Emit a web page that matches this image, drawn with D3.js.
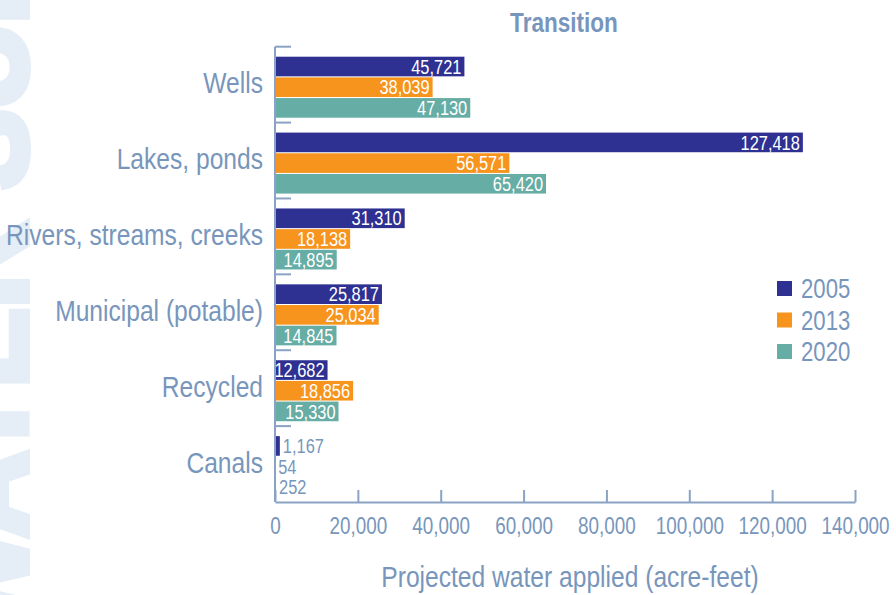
<!DOCTYPE html>
<html>
<head>
    <script src="https://d3js.org/d3.v7.min.js"></script>
    <style>
        body { margin: 0; background: #fff; }
        text { font-family: "Liberation Sans", Arial, sans-serif; }
    </style>
</head>
<body>
    <div id="chart"></div>
    <script>
        // data
        const categories = ["Wells", "Lakes, ponds", "Rivers, streams, creeks", "Municipal (potable)", "Recycled", "Canals"];
        const years = ["2005", "2013", "2020"];
        const values2005 = [45721, 127418, 31310, 25817, 12682, 1167];
        const values2013 = [38039, 56571, 18138, 25034, 18856, 54];
        const values2020 = [47130, 65420, 14895, 14845, 15330, 252];
        const xTicks = [0, 20000, 40000, 60000, 80000, 100000, 120000, 140000];
        const colors = ["#2e3192", "#f7941d", "#66ada5"];

        const seriesValues = [values2005, values2013, values2020];
        const rows = [];
        categories.forEach((c, i) => {
            years.forEach((yr, j) => rows.push({ cat: c, year: yr, value: seriesValues[j][i] }));
        });

        const W = 896, H = 595;
        const plotLeft = 275, plotRight = 855, plotTop = 46.7, plotBottom = 502;
        const textColor = "#7896bb", lineColor = "#8aa3c4";

        // no narrow font installed, so squeeze the normal one horizontally
        function condense(sel, k = 0.82) {
            sel.each(function () {
                const w = this.getComputedTextLength();
                d3.select(this).attr("textLength", w * k).attr("lengthAdjust", "spacingAndGlyphs");
            });
        }

        const svg = d3.select("#chart").append("svg")
            .attr("width", W).attr("height", H);

        // pale watermark running up the left edge, mostly cut off
        svg.append("text")
            .attr("transform", "translate(26,643) rotate(-90)")
            .style("font-weight", "bold")
            .style("font-size", "119px")
            .attr("fill", "#e5edf6")
            .attr("stroke", "#e5edf6")
            .attr("stroke-width", 8)
            .attr("stroke-linejoin", "miter")
            .text("WATER SUPPLY");

        const x = d3.scaleLinear().domain([0, 140000]).range([plotLeft, plotRight]);
        const y0 = d3.scaleBand().domain(categories).range([plotTop, plotBottom]);
        const y1 = d3.scaleBand().domain(years).range([10, 71]).paddingInner(0.05);
        const color = d3.scaleOrdinal().domain(years).range(colors);

        // title
        svg.append("text")
            .attr("x", 564).attr("y", 32)
            .attr("text-anchor", "middle")
            .style("font-size", "27.5px").style("font-weight", "bold")
            .attr("fill", textColor)
            .text("Transition")
            .call(condense);

        // bars
        svg.append("g").selectAll("rect")
            .data(rows)
            .join("rect")
            .attr("x", x(0))
            .attr("y", d => y0(d.cat) + y1(d.year))
            .attr("width", d => x(d.value) - x(0))
            .attr("height", y1.bandwidth())
            .attr("fill", d => color(d.year));

        // value labels
        svg.append("g").selectAll("text")
            .data(rows)
            .join("text")
            .attr("x", d => d.value >= 5000 ? x(d.value) - 3 : x(d.value) + 3)
            .attr("y", d => y0(d.cat) + y1(d.year) + y1.bandwidth() / 2)
            .attr("dy", "0.36em")
            .attr("text-anchor", d => d.value >= 5000 ? "end" : "start")
            .style("font-size", "20px")
            .attr("fill", d => d.value >= 5000 ? "#fff" : textColor)
            .text(d => d3.format(",")(d.value))
            .call(condense);

        // y axis: line, separator ticks, category labels
        const yAxis = svg.append("g");
        yAxis.append("line")
            .attr("x1", plotLeft).attr("x2", plotLeft)
            .attr("y1", plotTop).attr("y2", plotBottom)
            .attr("stroke", lineColor).attr("stroke-width", 2);
        yAxis.selectAll(".sep")
            .data(categories)
            .join("line")
            .attr("class", "sep")
            .attr("x1", plotLeft).attr("x2", plotLeft + 16)
            .attr("y1", d => y0(d)).attr("y2", d => y0(d))
            .attr("stroke", lineColor).attr("stroke-width", 2);
        yAxis.selectAll(".cat")
            .data(categories)
            .join("text")
            .attr("class", "cat")
            .attr("x", 263)
            .attr("y", d => y0(d) + y0.bandwidth() / 2 - 2)
            .attr("dy", "0.35em")
            .attr("text-anchor", "end")
            .style("font-size", "30px")
            .attr("fill", textColor)
            .text(d => d)
            .call(condense);

        // x axis with ticks pointing up
        const xAxis = svg.append("g")
            .attr("transform", `translate(0,${plotBottom})`)
            .call(d3.axisBottom(x).tickValues(xTicks).tickFormat(d3.format(","))
                .tickSizeInner(-12).tickSizeOuter(0).tickPadding(16));
        xAxis.select(".domain").attr("stroke", lineColor).attr("stroke-width", 2);
        xAxis.selectAll(".tick line").attr("stroke", lineColor).attr("stroke-width", 2);
        xAxis.selectAll(".tick text")
            .style("font-family", "'Liberation Sans', Arial, sans-serif")
            .style("font-size", "23px")
            .attr("fill", textColor)
            .call(condense);

        // x axis title
        svg.append("text")
            .attr("x", 570).attr("y", 587)
            .attr("text-anchor", "middle")
            .style("font-size", "30px")
            .attr("fill", textColor)
            .text("Projected water applied (acre-feet)")
            .call(condense);

        // legend
        const legend = svg.append("g").selectAll("g")
            .data(years)
            .join("g")
            .attr("transform", (d, i) => `translate(777,${281 + i * 31.5})`);
        legend.append("rect")
            .attr("width", 15).attr("height", 15)
            .attr("fill", d => color(d));
        legend.append("text")
            .attr("x", 24).attr("y", 7.5)
            .attr("dy", "0.36em")
            .style("font-size", "27px")
            .attr("fill", textColor)
            .text(d => d)
            .call(condense);
    </script>
</body>
</html>
